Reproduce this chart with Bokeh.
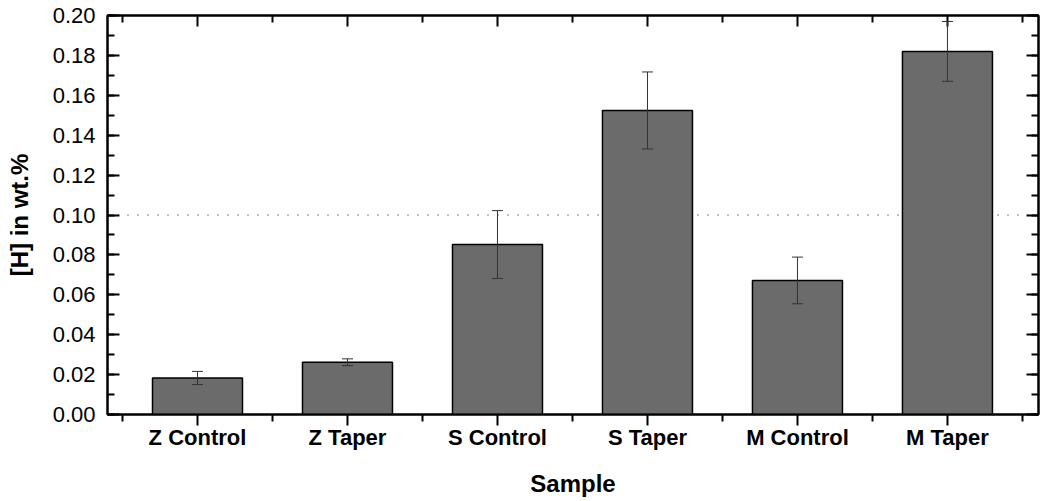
from bokeh.plotting import figure
from bokeh.models import (ColumnDataSource, LinearAxis, FixedTicker, SingleIntervalTicker,
                          NumeralTickFormatter, Range1d, Span, Whisker, TeeHead)
from bokeh.embed import file_html
from bokeh.resources import INLINE

categories = ["Z Control", "Z Taper", "S Control", "S Taper", "M Control", "M Taper"]
h_wt = [0.0183, 0.0262, 0.0852, 0.1524, 0.0672, 0.1820]
h_err = [0.0033, 0.0017, 0.0170, 0.0193, 0.0117, 0.0150]
reference_level = 0.10

xs = list(range(1, len(categories) + 1))
source = ColumnDataSource(dict(
    x=xs, top=h_wt,
    upper=[v + e for v, e in zip(h_wt, h_err)],
    lower=[v - e for v, e in zip(h_wt, h_err)],
))

FONT = "Liberation Sans"

p = figure(frame_width=931, frame_height=399, output_backend="svg", toolbar_location=None,
           x_range=Range1d(0.4, 6.607), y_range=Range1d(0, 0.2),
           min_border_left=107, min_border_top=15, min_border_right=3, min_border_bottom=78,
           x_axis_type=None, y_axis_type=None)
p.xgrid.visible = False
p.ygrid.visible = False
p.outline_line_color = "black"
p.outline_line_width = 2
p.background_fill_color = "white"
p.border_fill_color = "white"

# reference line (behind bars)
p.add_layout(Span(location=reference_level, dimension="width", line_color="#555555",
                  line_width=1.5, line_dash="1 9", level="underlay"))

p.vbar(x="x", top="top", width=0.6, bottom=0, source=source,
       fill_color="#6b6b6b", line_color="black", line_width=1.5)

p.add_layout(Whisker(base="x", upper="upper", lower="lower", source=source,
                     line_color="#333333", line_width=1, level="overlay",
                     upper_head=TeeHead(size=11, line_color="#333333", line_width=1),
                     lower_head=TeeHead(size=11, line_color="#333333", line_width=1)))

xticker = FixedTicker(ticks=xs, minor_ticks=[x - 0.5 for x in xs] + [xs[-1] + 0.5])
yticker = SingleIntervalTicker(interval=0.02, num_minor_ticks=2)

def style(ax):
    ax.axis_line_color = "black"
    ax.axis_line_width = 2
    ax.major_tick_line_color = "black"
    ax.minor_tick_line_color = "black"
    ax.major_tick_line_width = 2
    ax.minor_tick_line_width = 2

# bottom axis
xb = LinearAxis(ticker=xticker, axis_label="Sample")
style(xb)
xb.major_label_overrides = {x: c for x, c in zip(xs, categories)}
xb.major_tick_in = 0
xb.major_tick_out = 11
xb.minor_tick_in = 0
xb.minor_tick_out = 7
xb.major_label_text_font = FONT
xb.major_label_text_font_style = "bold"
xb.major_label_text_font_size = "22px"
xb.major_label_text_color = "black"
xb.major_label_standoff = -1
xb.axis_label_text_font = FONT
xb.axis_label_text_font_style = "bold"
xb.axis_label_text_font_size = "24px"
xb.axis_label_text_color = "black"
xb.axis_label_standoff = 17
p.add_layout(xb, "below")

# top axis
xt = LinearAxis(ticker=xticker)
style(xt)
xt.major_label_text_font_size = "0px"
xt.major_label_text_alpha = 0
xt.major_label_standoff = 0
xt.major_tick_in = 11
xt.major_tick_out = 0
xt.minor_tick_in = 7
xt.minor_tick_out = 0
p.add_layout(xt, "above")

# left axis
yl = LinearAxis(ticker=yticker, axis_label="[H] in wt.%")
style(yl)
yl.formatter = NumeralTickFormatter(format="0.00")
yl.major_tick_in = 12
yl.major_tick_out = 0
yl.minor_tick_in = 7
yl.minor_tick_out = 0
yl.major_label_text_font = FONT
yl.major_label_text_font_size = "22px"
yl.major_label_text_color = "black"
yl.major_label_standoff = 12
yl.axis_label_text_font = FONT
yl.axis_label_text_font_style = "bold"
yl.axis_label_text_font_size = "24px"
yl.axis_label_text_color = "black"
yl.axis_label_standoff = 17
p.add_layout(yl, "left")

# right axis
yr = LinearAxis(ticker=yticker)
style(yr)
yr.major_label_text_font_size = "0px"
yr.major_label_text_alpha = 0
yr.major_label_standoff = 0
yr.major_tick_in = 12
yr.major_tick_out = 0
yr.minor_tick_in = 7
yr.minor_tick_out = 0
p.add_layout(yr, "right")

open("out.html", "w").write(file_html(p, INLINE))
